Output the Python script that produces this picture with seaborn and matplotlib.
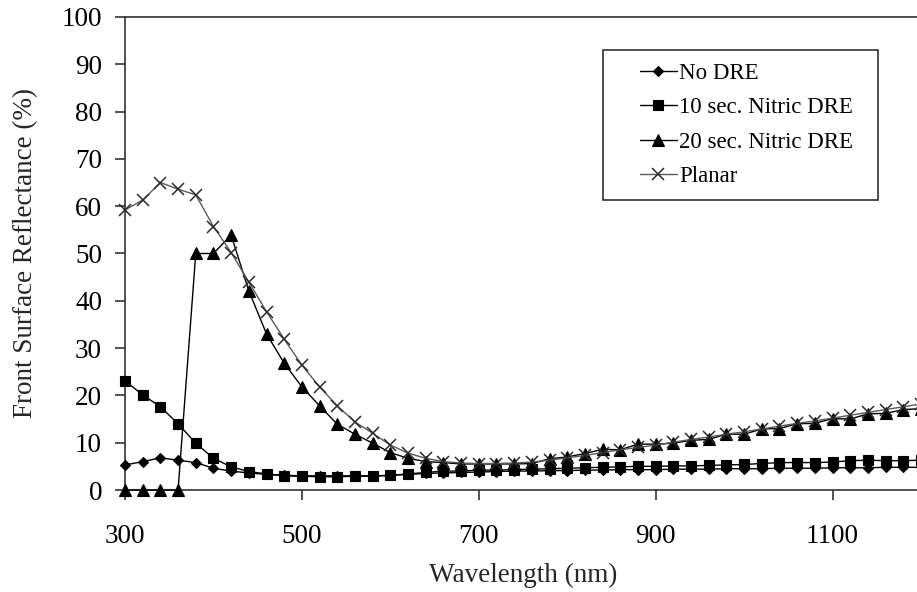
import matplotlib
matplotlib.use("Agg")
import matplotlib.pyplot as plt
import seaborn as sns
from matplotlib.lines import Line2D
from matplotlib.legend_handler import HandlerLine2D

# ---------------- data ----------------
wavelength = [300, 320, 340, 360, 380, 400, 420, 440, 460, 480,
              500, 520, 540, 560, 580, 600, 620, 640, 660, 680,
              700, 720, 740, 760, 780, 800, 820, 840, 860, 880,
              900, 920, 940, 960, 980, 1000, 1020, 1040, 1060, 1080,
              1100, 1120, 1140, 1160, 1180, 1200]

no_dre = [5.3, 6.0, 6.8, 6.3, 5.8, 4.6, 4.0, 3.6, 3.3, 3.1,
          3.0, 3.0, 3.0, 3.0, 3.0, 3.1, 3.3, 3.5, 3.6, 3.7,
          3.8, 3.9, 4.0, 4.0, 4.1, 4.1, 4.2, 4.2, 4.3, 4.3,
          4.3, 4.4, 4.4, 4.4, 4.5, 4.5, 4.5, 4.6, 4.6, 4.6,
          4.7, 4.7, 4.7, 4.8, 4.8, 4.8]

nitric_10 = [23.1, 20.1, 17.6, 14.0, 9.9, 6.7, 4.9, 3.9, 3.4, 3.0,
             2.9, 2.8, 2.8, 2.9, 2.9, 3.1, 3.4, 3.7, 4.0, 4.0,
             4.2, 4.2, 4.3, 4.4, 4.5, 4.6, 4.7, 4.8, 4.9, 5.0,
             5.0, 5.1, 5.1, 5.2, 5.3, 5.4, 5.6, 5.8, 5.8, 5.8,
             5.9, 6.2, 6.3, 6.2, 6.2, 6.3]

nitric_20 = [0.0, 0.0, 0.0, 0.0, 50.0, 50.0, 53.9, 42.1, 33.0, 26.8,
             21.8, 17.8, 13.9, 11.8, 9.9, 7.9, 6.7, 6.0, 5.8, 5.5,
             5.5, 5.5, 5.5, 5.6, 6.6, 7.0, 7.7, 8.6, 8.5, 9.7,
             9.7, 9.9, 10.5, 10.7, 11.8, 11.8, 12.9, 13.0, 14.0, 14.1,
             15.1, 15.0, 16.1, 16.2, 17.0, 17.2]

planar = [59.2, 61.3, 65.0, 63.6, 62.4, 55.7, 50.2, 44.0, 37.7, 31.9,
          26.4, 21.8, 17.8, 14.4, 12.0, 9.5, 7.8, 6.7, 6.0, 5.7,
          5.6, 5.6, 5.7, 5.9, 6.3, 6.8, 7.3, 7.9, 8.5, 9.0,
          9.5, 10.1, 10.7, 11.2, 11.8, 12.3, 12.9, 13.5, 14.1, 14.6,
          15.2, 15.8, 16.4, 17.0, 17.6, 18.2]

series_labels = ["No DRE", "10 sec. Nitric DRE", "20 sec. Nitric DRE", "Planar"]
x_ticks = [300, 500, 700, 900, 1100]
y_ticks = [0, 10, 20, 30, 40, 50, 60, 70, 80, 90, 100]

# ---------------- style ----------------
sns.set_theme(style="ticks")
plt.rcParams['font.family'] = ['Liberation Serif', 'DejaVu Serif']
plt.rcParams['text.color'] = 'black'

W, H = 917, 592
fig = plt.figure(figsize=(W / 100, H / 100), dpi=100)
fig.patch.set_facecolor('white')
ax = fig.add_axes([125 / W, (H - 490) / H, 796 / W, 473 / H])
ax.set_facecolor('white')

series = [no_dre, nitric_10, nitric_20, planar]
styles = [
    dict(marker='D', markersize=5.2, color='black', markerfacecolor='black',
         markeredgecolor='black', markeredgewidth=0.8),
    dict(marker='s', markersize=7.4, color='black', markerfacecolor='black',
         markeredgecolor='black', markeredgewidth=0.8),
    dict(marker='^', markersize=8.0, color='black', markerfacecolor='black',
         markeredgecolor='black', markeredgewidth=0.8),
    dict(marker='x', markersize=8.0, color='#5a5a5a', markerfacecolor='#2a2a2a',
         markeredgecolor='#2a2a2a', markeredgewidth=1.1),
]
for ys, lab, st in zip(series, series_labels, styles):
    sns.lineplot(x=wavelength, y=ys, ax=ax, label=lab, linewidth=1.0,
                 clip_on=False, zorder=3, **st)

ax.set_xlim(300, 1200)
ax.set_ylim(0, 100)
ax.set_xticks(x_ticks)
ax.set_yticks(y_ticks)

for s in ax.spines.values():
    s.set_linewidth(1.2)
    s.set_color('#333333')
    s.set_visible(True)

ax.tick_params(axis='both', direction='out', length=7.5, width=1.2,
               color='#333333', labelcolor='black')
ax.tick_params(axis='x', labelsize=19.5, pad=17)
ax.tick_params(axis='y', labelsize=19.5, pad=9)

ax.set_xlabel("Wavelength (nm)", fontsize=19.5, labelpad=10)
ax.set_ylabel("Front Surface Reflectance (%)", fontsize=19.5, labelpad=17)

handles, labels = ax.get_legend_handles_labels()
leg = ax.legend(handles, labels, loc='upper left',
                bbox_to_anchor=(0.6005, 0.0, 0.3455, 0.9302),
                mode='expand', borderaxespad=0, borderpad=0.55,
                labelspacing=0.59, handlelength=2.67, handletextpad=0.1,
                fontsize=16.5, frameon=True, fancybox=False,
                edgecolor='#303030', framealpha=1,
                handler_map={Line2D: HandlerLine2D(xpad=1.06)})
leg.get_frame().set_linewidth(1.2)

fig.savefig("out.png", dpi=100, facecolor='white')
